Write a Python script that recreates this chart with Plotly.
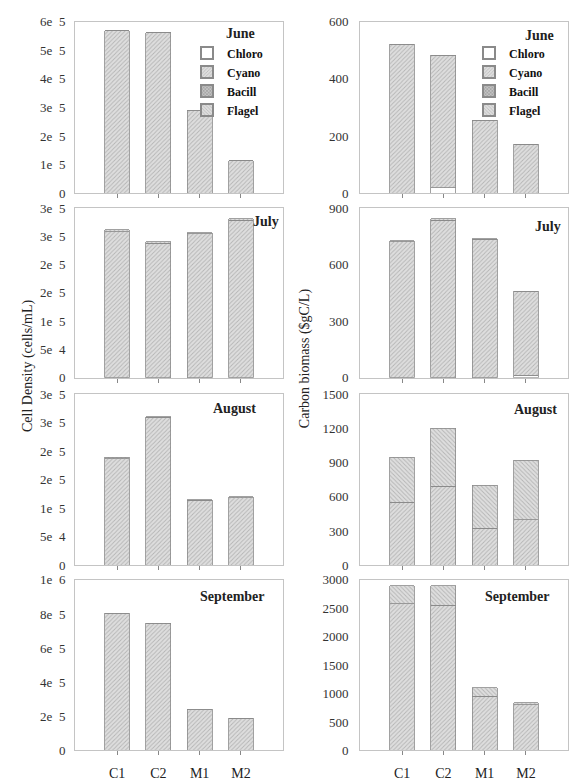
import plotly.graph_objects as go

# ---------------- data ----------------
sites = ["C1", "C2", "M1", "M2"]
months = ["June", "July", "August", "September"]
groups = ["Chloro", "Cyano", "Bacill", "Flagel"]

# Cell density (cells/mL), one list per month (June, July, August, September)
density_chloro = [[0, 0, 0, 0], [0, 0, 0, 0], [0, 0, 0, 0], [0, 0, 0, 0]]
density_cyano = [[567600, 560800, 289300, 113500],
                 [258300, 238100, 254200, 278500],
                 [187300, 259500, 113700, 118400],
                 [800000, 742700, 238900, 187800]]
density_bacill = [[0, 0, 0, 0], [0, 0, 0, 0], [0, 0, 0, 0], [0, 0, 0, 0]]
density_flagel = [[1500, 1500, 1000, 800],
                  [3000, 2500, 2000, 3000],
                  [2000, 1500, 1000, 1500],
                  [3000, 3000, 2000, 1500]]

# Carbon biomass (ugC/L)
biomass_chloro = [[0, 20, 0, 0], [0, 0, 0, 12], [0, 0, 0, 0], [0, 0, 0, 0]]
biomass_cyano = [[520, 461, 254, 171],
                 [722, 836, 735, 445],
                 [552, 695, 322, 399],
                 [2581, 2553, 952, 800]]
biomass_bacill = [[0, 0, 0, 0], [0, 0, 0, 0], [0, 0, 0, 0], [0, 0, 0, 0]]
biomass_flagel = [[2, 2, 1, 1],
                  [4, 7, 3, 2],
                  [396, 509, 382, 523],
                  [316, 344, 155, 37]]

# axis ticks
density_tickvals = [[0, 1e5, 2e5, 3e5, 4e5, 5e5, 6e5],
                    [0, 5e4, 1e5, 1.5e5, 2e5, 2.5e5, 3e5],
                    [0, 5e4, 1e5, 1.5e5, 2e5, 2.5e5, 3e5],
                    [0, 2e5, 4e5, 6e5, 8e5, 1e6]]
density_ticktext = [["0", "1e  5", "2e  5", "3e  5", "4e  5", "5e  5", "6e  5"],
                    ["0", "5e  4", "1e  5", "2e  5", "2e  5", "3e  5", "3e  5"],
                    ["0", "5e  4", "1e  5", "2e  5", "2e  5", "3e  5", "3e  5"],
                    ["0", "2e  5", "4e  5", "6e  5", "8e  5", "1e  6"]]
biomass_max = [600, 900, 1500, 3000]
biomass_dtick = [200, 300, 300, 500]

# ---------------- styling ----------------
SERIF = "Liberation Serif"
W, H = 579, 783
left_dom = [75 / W, 283 / W]
right_dom = [360 / W, 568 / W]
row_px = [(15, 190), (205, 378), (395, 569), (584, 758)]
row_dom = [[1 - b / H, 1 - t / H] for (t, b) in row_px]

styles = {
    "Chloro": dict(color="white", pattern=None),
    "Cyano": dict(color="#d8d8d8", pattern=dict(shape="/", fgcolor="#8a8a8a", bgcolor="#dedede", size=3, solidity=0.3)),
    "Bacill": dict(color="#b0b0b0", pattern=dict(shape="x", fgcolor="#555555", bgcolor="#c4c4c4", size=3, solidity=0.35)),
    "Flagel": dict(color="#d4d4d4", pattern=dict(shape="\\", fgcolor="#8a8a8a", bgcolor="#dedede", size=3, solidity=0.3)),
}

density_sets = dict(Chloro=density_chloro, Cyano=density_cyano, Bacill=density_bacill, Flagel=density_flagel)
biomass_sets = dict(Chloro=biomass_chloro, Cyano=biomass_cyano, Bacill=biomass_bacill, Flagel=biomass_flagel)

fig = go.Figure()

def add_bars(sets, m, axis_idx, legend_name, show):
    xa = "x" if axis_idx == 1 else f"x{axis_idx}"
    ya = "y" if axis_idx == 1 else f"y{axis_idx}"
    for g in groups:
        st = styles[g]
        marker = dict(color=st["color"], line=dict(color="#8a8a8a", width=0.8))
        if st["pattern"] is not None:
            marker["pattern"] = st["pattern"]
        fig.add_trace(go.Bar(
            x=sites, y=sets[g][m], name=g, marker=marker, width=0.6,
            xaxis=xa, yaxis=ya, legend=legend_name, showlegend=show,
            legendgroup=f"{legend_name}-{g}",
        ))

layout = dict(
    width=W, height=H, margin=dict(l=0, r=0, t=0, b=0),
    paper_bgcolor="white", plot_bgcolor="white", barmode="stack",
    font=dict(family=SERIF, size=13, color="#333333"),
    showlegend=True,
)

annotations = []
month_pos_left = [(0.875, 0.93), (0.99, 0.92), (0.88, 0.92), (0.925, 0.90)]
month_pos_right = [(0.94, 0.92), (0.975, 0.89), (0.957, 0.914), (0.925, 0.90)]

for m in range(4):
    li = 2 * m + 1
    ri = 2 * m + 2
    add_bars(density_sets, m, li, "legend", m == 0)
    add_bars(biomass_sets, m, ri, "legend2", m == 0)
    for idx, dom in ((li, left_dom), (ri, right_dom)):
        key = "xaxis" if idx == 1 else f"xaxis{idx}"
        layout[key] = dict(
            domain=dom, anchor=("y" if idx == 1 else f"y{idx}"),
            range=[-1.02, 4.02], showline=True, mirror=True, linecolor="#c4c4c4", linewidth=1,
            ticks="outside", ticklen=4, tickcolor="#888888", showgrid=False, zeroline=False,
            showticklabels=(m == 3), ticklabelstandoff=6,
            tickfont=dict(family=SERIF, size=14, color="#222222"),
            fixedrange=True,
        )
    ly = "yaxis" if li == 1 else f"yaxis{li}"
    layout[ly] = dict(
        domain=row_dom[m], anchor=("x" if li == 1 else f"x{li}"),
        range=[0, density_tickvals[m][-1]], tickmode="array",
        tickvals=density_tickvals[m], ticktext=density_ticktext[m],
        showline=True, mirror=True, linecolor="#c4c4c4", linewidth=1, ticks="",
        showgrid=False, zeroline=False, ticklabelstandoff=6,
        tickfont=dict(family=SERIF, size=13, color="#333333"),
    )
    ry = f"yaxis{ri}"
    layout[ry] = dict(
        domain=row_dom[m], anchor=f"x{ri}",
        range=[0, biomass_max[m]], dtick=biomass_dtick[m], tick0=0,
        showline=True, mirror=True, linecolor="#c4c4c4", linewidth=1, ticks="",
        showgrid=False, zeroline=False, ticklabelstandoff=8,
        tickfont=dict(family=SERIF, size=13, color="#333333"),
    )
    for idx, pos in ((li, month_pos_left[m]), (ri, month_pos_right[m])):
        xr = "x domain" if idx == 1 else f"x{idx} domain"
        yr = "y domain" if idx == 1 else f"y{idx} domain"
        annotations.append(dict(
            text=f"<b>{months[m]}</b>", x=pos[0], y=pos[1], xref=xr, yref=yr,
            xanchor="right", yanchor="middle", showarrow=False,
            font=dict(family=SERIF, size=14, color="#222222"),
        ))

annotations.append(dict(text="Cell Density (cells/mL)", x=18 / W, y=1 - 366 / H, xref="paper", yref="paper",
                        textangle=-90, showarrow=False, font=dict(family=SERIF, size=14, color="#222222")))
annotations.append(dict(text="Carbon biomass ($gC/L)", x=305 / W, y=1 - 358 / H, xref="paper", yref="paper",
                        textangle=-90, showarrow=False, font=dict(family=SERIF, size=14, color="#222222")))

legend_style = dict(bgcolor="rgba(0,0,0,0)", borderwidth=0, yanchor="top", xanchor="left",
                    font=dict(family=SERIF, size=12, color="#111111", weight="bold"), itemsizing="constant",
                    tracegroupgap=0, traceorder="normal")
layout["legend"] = dict(x=187 / W, y=1 - 32 / H, **legend_style)
layout["legend2"] = dict(x=469 / W, y=1 - 32 / H, **legend_style)
layout["annotations"] = annotations

fig.update_layout(**layout)
fig.write_html("out.html")
